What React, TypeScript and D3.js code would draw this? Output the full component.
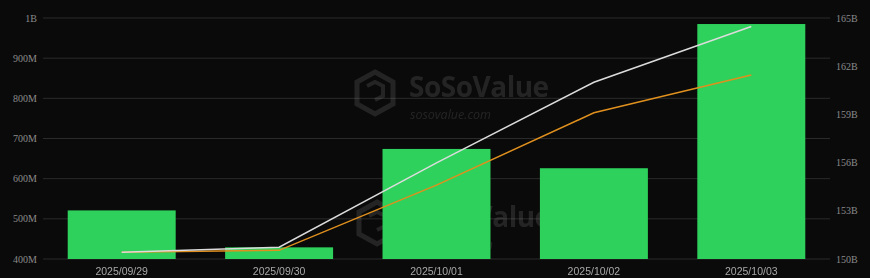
import React from "react";
import * as d3 from "d3";

const categories = ["2025/09/29", "2025/09/30", "2025/10/01", "2025/10/02", "2025/10/03"];
const barValues = [521e6, 429e6, 674e6, 626e6, 985e6];
const whiteLine = [150.42e9, 150.73e9, 155.98e9, 161.0e9, 164.47e9];
const orangeLine = [150.42e9, 150.54e9, 154.6e9, 159.1e9, 161.45e9];
const leftTicks = [400e6, 500e6, 600e6, 700e6, 800e6, 900e6, 1e9];
const leftTickLabels = ["400M", "500M", "600M", "700M", "800M", "900M", "1B"];
const rightTicks = [150e9, 153e9, 156e9, 159e9, 162e9, 165e9];
const rightTickLabels = ["150B", "153B", "156B", "159B", "162B", "165B"];

const W = 870, H = 278;
const M = { left: 43, right: 40, top: 18, bottom: 19 };

function Watermark({ dx, dy }: { dx: number; dy: number }) {
  return (
    <g transform={`translate(${dx},${dy})`} fill="#bbbbbb" fontFamily="Open Sans, sans-serif">
      <g transform="translate(355,72)">
        <path d="M20 0 L38 10 L38 32 L20 42 L2 32 L2 10 Z" fill="none" stroke="#bbbbbb" strokeWidth={5} />
        <path d="M12 14 L20 10 L28 14 L28 24 L20 28" fill="none" stroke="#bbbbbb" strokeWidth={4} />
      </g>
      <text x={409} y={97} fontSize={28} fontWeight={700} letterSpacing={-0.5}>SoSoValue</text>
      <text x={410} y={119} fontSize={12.5} fontStyle="italic">sosovalue.com</text>
    </g>
  );
}

export default function App() {
  const x = d3.scaleBand<string>().domain(categories).range([M.left, W - M.right]).paddingInner(0.314).paddingOuter(0.157);
  const y = d3.scaleLinear().domain([400e6, 1e9]).range([H - M.bottom, M.top]);
  const y2 = d3.scaleLinear().domain([150e9, 165e9]).range([H - M.bottom, M.top]);
  const cx = (c: string) => (x(c) ?? 0) + x.bandwidth() / 2;
  const lw = d3.line<number>().x((_, i) => cx(categories[i])).y((d) => y2(d));
  return (
    <div style={{ position: "absolute", left: 0, top: 0 }}>
      <svg width={W} height={H} style={{ display: "block", background: "#0a0a0a" }}>
        <rect x={0} y={0} width={W} height={H} fill="#0a0a0a" />
        {leftTicks.map((t, i) => (
          <g key={t}>
            <line x1={M.left} x2={W - M.right} y1={y(t)} y2={y(t)} stroke="#2b2b2b" strokeWidth={1} />
            <text x={37} y={y(t)} dy="0.35em" textAnchor="end" fill="#8a8a8a" fontSize={10} fontFamily="Liberation Serif, serif">{leftTickLabels[i]}</text>
          </g>
        ))}
        {rightTicks.map((t, i) => (
          <text key={t} x={836} y={y2(t)} dy="0.35em" textAnchor="start" fill="#8a8a8a" fontSize={10} fontFamily="Liberation Serif, serif">{rightTickLabels[i]}</text>
        ))}
        <g opacity={0.15}>
          <Watermark dx={0} dy={0} />
          <Watermark dx={2} dy={130} />
        </g>
        {categories.map((c, i) => (
          <rect key={c} x={x(c)} y={y(barValues[i])} width={x.bandwidth()} height={y(400e6) - y(barValues[i])} fill="#2ed15b" />
        ))}
        <path d={lw(orangeLine) ?? ""} fill="none" stroke="#e0901e" strokeWidth={1.5} />
        <path d={lw(whiteLine) ?? ""} fill="none" stroke="#dcdcdc" strokeWidth={1.5} />
        {categories.map((c) => (
          <text key={c} x={cx(c)} y={271} dy="0.35em" textAnchor="middle" fill="#a8a8a8" fontSize={10.5} fontFamily="Liberation Sans, Arial, sans-serif">{c}</text>
        ))}
      </svg>
    </div>
  );
}
